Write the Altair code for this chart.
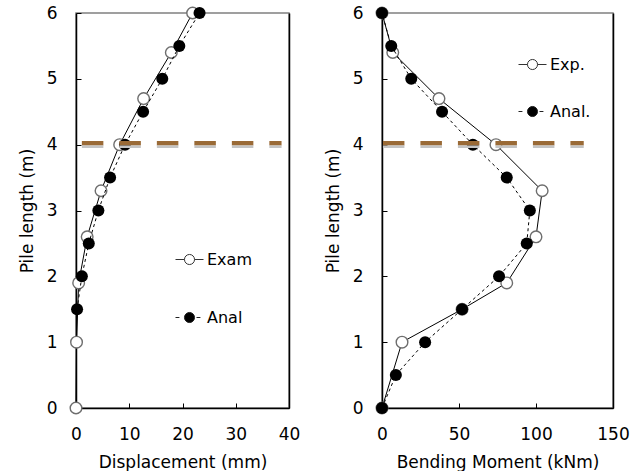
import altair as alt
import pandas as pd

# ---------------- data ----------------
# Left panel: displacement (mm) vs pile length (m)
exam_disp = [0, 0.1, 0.5, 2.1, 4.7, 8.2, 12.7, 17.9, 21.9]
exam_depth = [0, 1.0, 1.9, 2.6, 3.3, 4.0, 4.7, 5.4, 6.0]
anal_disp = [0.2, 1.1, 2.4, 4.2, 6.4, 9.2, 12.6, 16.2, 19.4, 23.2]
anal_disp_depth = [1.5, 2.0, 2.5, 3.0, 3.5, 4.0, 4.5, 5.0, 5.5, 6.0]

# Right panel: bending moment (kNm) vs pile length (m)
exp_bm = [0, 13, 52, 81, 100, 104, 74, 37, 7, 0]
exp_depth = [0, 1.0, 1.5, 1.9, 2.6, 3.3, 4.0, 4.7, 5.4, 6.0]
anal_bm = [0, 9, 28, 52, 76, 94, 96, 81, 59, 39, 19, 6, 0]
anal_bm_depth = [0, 0.5, 1.0, 1.5, 2.0, 2.5, 3.0, 3.5, 4.0, 4.5, 5.0, 5.5, 6.0]

# ground level line (m) and its drawn extent
ground_level = 4.0
ground_x_left = [1.1, 38.6]
ground_x_right = [0.6, 131]

y_ticks = [0, 1, 2, 3, 4, 5, 6]
x_ticks_left = [0, 10, 20, 30, 40]
x_ticks_right = [0, 50, 100, 150]

legend_left = ["Exam", "Anal"]
legend_right = ["Exp.", "Anal."]

FONT = "DejaVu Sans"
FS = 17

# legend symbols: line-circle-line (solid) and dash-circle-dash
PATH_SOLID = ("M-1,0L-0.36,0M0.36,0L1,0"
              "M-0.36,0A0.36,0.36 0 1,0 0.36,0A0.36,0.36 0 1,0 -0.36,0Z")
PATH_DASH = ("M-1,0L-0.72,0M0.5,0L0.78,0"
             "M-0.36,0A0.36,0.36 0 1,0 0.36,0A0.36,0.36 0 1,0 -0.36,0Z")


def make_legend(lx, ly, rowpad):
    return alt.Legend(
        orient="none", legendX=lx, legendY=ly, title=None,
        symbolSize=784, symbolOpacity=1, symbolStrokeWidth=1,
        labelFont=FONT, labelFontSize=16, labelColor="black",
        labelOffset=3, rowPadding=rowpad, padding=0)


def panel(xs1, ys1, xs2, ys2, xdom, xticks, xtitle, gx, labels, w, h,
          lx, ly, rowpad):
    d1 = pd.DataFrame({"x": xs1, "y": ys1})
    d2 = pd.DataFrame({"x": xs2, "y": ys2})
    dg = pd.DataFrame({"x0": [gx[0]], "x1": [gx[1]], "y": [ground_level]})
    dl = pd.DataFrame({"s": labels})

    xs = alt.Scale(domain=xdom, nice=False, zero=False)
    ys = alt.Scale(domain=[0, 6], nice=False, zero=False)

    main_x = alt.Axis(values=xticks, title=xtitle, ticks=False, tickSize=0,
                      domainColor="black", domainWidth=1.5, grid=False,
                      labelFont=FONT, labelFontSize=FS, labelColor="black",
                      titleFont=FONT, titleFontSize=FS, titleFontWeight="normal",
                      titleColor="black", labelPadding=18, titlePadding=12,
                      labelFlush=False)
    main_y = alt.Axis(values=y_ticks, title="Pile length (m)", ticks=False,
                      tickSize=0, domainColor="black", domainWidth=1.5,
                      grid=False, labelFont=FONT, labelFontSize=FS,
                      labelColor="black", titleFont=FONT, titleFontSize=FS,
                      titleFontWeight="normal", titleColor="black",
                      labelPadding=19, titlePadding=10, labelFlush=False)
    tick_x = alt.Axis(values=xticks, orient="bottom", offset=-5, labels=False,
                      domain=False, ticks=True, tickSize=5, tickColor="black",
                      tickWidth=1, title=None, grid=False)
    tick_y = alt.Axis(values=y_ticks, orient="left", offset=-5, labels=False,
                      domain=False, ticks=True, tickSize=5, tickColor="black",
                      tickWidth=1, title=None, grid=False)
    right_y = alt.Axis(orient="right", labels=False, ticks=False, domain=True,
                       domainColor="black", domainWidth=1.5, title=None,
                       grid=False)

    l1 = alt.Chart(d1).mark_line(color="black", strokeWidth=1).encode(
        x=alt.X("x:Q", scale=xs, axis=main_x),
        y=alt.Y("y:Q", scale=ys, axis=main_y),
        order="y:Q")
    p1 = alt.Chart(d1).mark_point(shape="circle", filled=True, fill="white",
                                  stroke="#6e6e6e", strokeWidth=1.4, size=135,
                                  opacity=1).encode(
        x=alt.X("x:Q", scale=xs, axis=None),
        y=alt.Y("y:Q", scale=ys, axis=None))
    l2 = alt.Chart(d2).mark_line(color="black", strokeWidth=1,
                                 strokeDash=[3, 3]).encode(
        x=alt.X("x:Q", scale=xs, axis=None),
        y=alt.Y("y:Q", scale=ys, axis=None),
        order="y:Q")
    p2 = alt.Chart(d2).mark_circle(color="black", size=145, opacity=1).encode(
        x=alt.X("x:Q", scale=xs, axis=None),
        y=alt.Y("y:Q", scale=ys, axis=None))
    g1 = alt.Chart(dg).mark_rule(color="#9a6a36", strokeWidth=4.5,
                                 strokeDash=[21.5, 16], yOffset=-1.5).encode(
        x=alt.X("x0:Q", scale=xs, axis=tick_x),
        x2="x1:Q",
        y=alt.Y("y:Q", scale=ys, axis=tick_y))
    g2 = alt.Chart(dg).mark_rule(color="#c4c4c4", strokeWidth=2.5,
                                 strokeDash=[21.5, 16], yOffset=2.2).encode(
        x=alt.X("x0:Q", scale=xs, axis=None),
        x2="x1:Q",
        y=alt.Y("y:Q", scale=ys, axis=right_y))
    leg = alt.Chart(dl).mark_point(filled=True, opacity=0).encode(
        shape=alt.Shape("s:N", scale=alt.Scale(domain=labels,
                                                 range=[PATH_SOLID, PATH_DASH]),
                        legend=make_legend(lx, ly, rowpad)),
        fill=alt.Fill("s:N", scale=alt.Scale(domain=labels,
                                               range=["white", "black"]),
                      legend=make_legend(lx, ly, rowpad)),
        stroke=alt.Stroke("s:N", scale=alt.Scale(domain=labels,
                                                   range=["#333333", "#222222"]),
                          legend=make_legend(lx, ly, rowpad)))

    return alt.layer(l1, p1, l2, p2, g1, g2, leg).resolve_axis(
        x="independent", y="independent").properties(width=w, height=h)


left = panel(exam_disp, exam_depth, anal_disp, anal_disp_depth, [0, 40],
             x_ticks_left, "Displacement (mm)", ground_x_left, legend_left,
             213, 395, 99, 232, 35)
right = panel(exp_bm, exp_depth, anal_bm, anal_bm_depth, [0, 150],
              x_ticks_right, "Bending Moment (kNm)", ground_x_right,
              legend_right, 231, 395, 136, 37, 24)

chart = alt.hconcat(left, right, spacing=22).resolve_scale(
    x="independent", y="independent", shape="independent",
    fill="independent", stroke="independent").resolve_legend(
    shape="independent", fill="independent", stroke="independent").properties(
    padding={"left": 17, "top": 3, "right": 0, "bottom": 0}
).configure_view(stroke="#808080", strokeWidth=1.5)

chart.save("out.html", embed_options={"renderer": "svg", "actions": False})
